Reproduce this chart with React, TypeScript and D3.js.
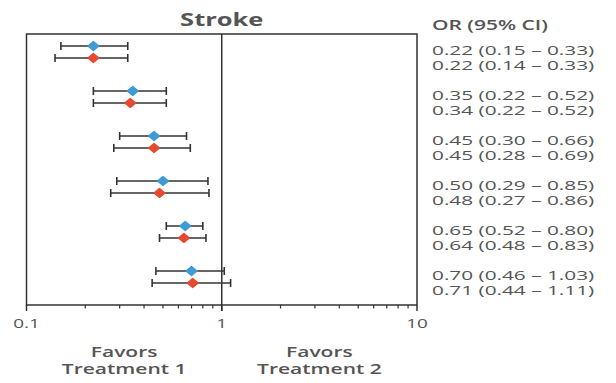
import * as d3 from "d3";

// odds ratios, two series per row (blue first, red second)
const rowIds = [0, 1, 2, 3, 4, 5];
const orBlue = [0.22, 0.35, 0.45, 0.5, 0.65, 0.7];
const loBlue = [0.15, 0.22, 0.3, 0.29, 0.52, 0.46];
const hiBlue = [0.33, 0.52, 0.66, 0.85, 0.8, 1.03];
const orRed = [0.22, 0.34, 0.45, 0.48, 0.64, 0.71];
const loRed = [0.14, 0.22, 0.28, 0.27, 0.48, 0.44];
const hiRed = [0.33, 0.52, 0.69, 0.86, 0.83, 1.11];
const tickValues = [0.1, 1, 10];
const tickLabels = ["0.1", "1", "10"];

const W = 616;
const H = 383;
const SX = 1.5; // the source text is stretched horizontally
const FONT = "'Open Sans', sans-serif";
const INK = "#333";
const GREY = "#555";
const BLUE = "#3f9bd6";
const RED = "#e64a30";

const fmt = (v: number) => v.toFixed(2);
const label = (o: number, l: number, h: number) => `${fmt(o)} (${fmt(l)} – ${fmt(h)})`;

const Stretch = ({ x, y, sx = SX, children, ...rest }: any) => (
    <text transform={`translate(${x},${y}) scale(${sx},1)`} fontFamily={FONT} {...rest}>
        {children}
    </text>
);

const App = () => {
    const top = 34;
    const bottom = 305;
    const x = d3.scaleLog().domain([0.1, 10]).range([26.5, 417]);
    const y = d3.scaleBand<number>().domain(rowIds).range([top, top + 270]);

    const series = [
        { color: BLUE, or: orBlue, lo: loBlue, hi: hiBlue, dy: 12, ty: 21 },
        { color: RED, or: orRed, lo: loRed, hi: hiRed, dy: 24, ty: 35.5 },
    ];

    const minor = x.ticks().filter((t) => !tickValues.some((m) => Math.abs(m - t) < 1e-9));
    const diamond = (cx: number, cy: number) =>
        `M${cx - 5.5},${cy}L${cx},${cy - 4.5}L${cx + 5.5},${cy}L${cx},${cy + 4.5}Z`;

    return (
        <div style={{ position: "fixed", left: 0, top: 0 }}>
            <svg width={W} height={H} style={{ display: "block", background: "#fff" }}>
                <Stretch x={x(1)} y={26} textAnchor="middle" fontSize={17} fontWeight={700} fill={GREY}>
                    Stroke
                </Stretch>

                {/* frame */}
                <rect x={x(0.1)} y={top} width={x(10) - x(0.1)} height={bottom - top}
                    fill="none" stroke={INK} strokeWidth={1.5} />
                <line x1={x(1)} x2={x(1)} y1={top} y2={bottom + 6} stroke={INK} strokeWidth={1.5} />

                {/* axis ticks */}
                {tickValues.map((t, i) => (
                    <g key={t}>
                        <line x1={x(t)} x2={x(t)} y1={bottom} y2={bottom + 6} stroke={INK} strokeWidth={1.5} />
                        <Stretch x={x(t)} y={328} textAnchor="middle" fontSize={13.5} sx={1.4} fill={GREY}>
                            {tickLabels[i]}
                        </Stretch>
                    </g>
                ))}
                {minor.map((t) => (
                    <line key={t} x1={x(t)} x2={x(t)} y1={bottom} y2={bottom + 3.5} stroke={INK} strokeWidth={1.2} />
                ))}

                {/* error bars and points */}
                {series.map((s) =>
                    rowIds.map((r) => {
                        const cy = (y(r) ?? 0) + s.dy;
                        const x0 = x(s.lo[r]);
                        const x1 = x(s.hi[r]);
                        return (
                            <g key={`${s.color}-${r}`}>
                                <line x1={x0} x2={x1} y1={cy} y2={cy} stroke={INK} strokeWidth={1.4} />
                                <line x1={x0} x2={x0} y1={cy - 4} y2={cy + 4} stroke={INK} strokeWidth={1.6} />
                                <line x1={x1} x2={x1} y1={cy - 4} y2={cy + 4} stroke={INK} strokeWidth={1.6} />
                                <path d={diamond(x(s.or[r]), cy)} fill={s.color} stroke={s.color}
                                    strokeWidth={1.4} strokeLinejoin="round" />
                            </g>
                        );
                    })
                )}

                {/* right-hand table */}
                <Stretch x={432} y={30} fontSize={14} fontWeight={600} fill={GREY}>
                    OR (95% CI)
                </Stretch>
                {series.map((s) =>
                    rowIds.map((r) => (
                        <Stretch key={`t-${s.color}-${r}`} x={432} y={(y(r) ?? 0) + s.ty}
                            fontSize={13} sx={1.6} fill={GREY}>
                            {label(s.or[r], s.lo[r], s.hi[r])}
                        </Stretch>
                    ))
                )}

                {/* favors labels */}
                {[
                    { v: Math.sqrt(0.1 * 1), t: "Treatment 1" },
                    { v: Math.sqrt(1 * 10), t: "Treatment 2" },
                ].map((f) => (
                    <g key={f.t}>
                        <Stretch x={x(f.v)} y={357} textAnchor="middle" fontSize={14} fontWeight={600} fill={GREY}>
                            Favors
                        </Stretch>
                        <Stretch x={x(f.v)} y={374} textAnchor="middle" fontSize={14} fontWeight={600} fill={GREY}>
                            {f.t}
                        </Stretch>
                    </g>
                ))}
            </svg>
        </div>
    );
};

export default App;
